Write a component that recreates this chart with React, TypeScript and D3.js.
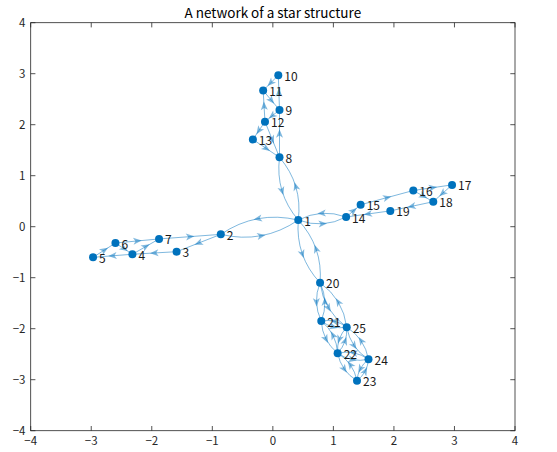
import React from 'react'
import * as d3 from 'd3'

// node positions
const nodeIds = [1, 2, 3, 4, 5, 6, 7, 8, 9, 10, 11, 12, 13, 14, 15, 16, 17, 18, 19, 20, 21, 22, 23, 24, 25]
const nodeX = [0.42, -0.86, -1.59, -2.32, -2.97, -2.6, -1.88, 0.11, 0.11, 0.09, -0.16, -0.13, -0.33, 1.21, 1.45, 2.32, 2.96, 2.65, 1.94, 0.78, 0.8, 1.07, 1.39, 1.58, 1.22]
const nodeY = [0.13, -0.15, -0.49, -0.54, -0.6, -0.32, -0.24, 1.36, 2.29, 2.97, 2.67, 2.06, 1.71, 0.19, 0.43, 0.71, 0.82, 0.49, 0.31, -1.1, -1.85, -2.48, -3.02, -2.6, -1.97]

// directed edges (source -> target)
const edgeSource = [
  1, 2, 1, 8, 1, 14, 1, 20,
  2, 3, 4, 5, 6, 7, 4, 6,
  8, 9, 10, 11, 12, 9, 12, 13, 12,
  14, 15, 16, 17, 18, 19, 16,
  20, 21, 20, 25, 21, 22, 21, 25, 22, 25, 22, 23, 22, 24, 23, 24, 24, 25
]
const edgeTarget = [
  2, 1, 8, 1, 14, 1, 20, 1,
  3, 4, 5, 6, 7, 2, 7, 4,
  9, 10, 11, 9, 11, 12, 13, 8, 8,
  15, 16, 17, 18, 19, 14, 18,
  21, 20, 25, 20, 22, 21, 25, 21, 25, 22, 23, 22, 24, 22, 24, 23, 25, 24
]

const xTicks = [-4, -3, -2, -1, 0, 1, 2, 3, 4]
const yTicks = [-4, -3, -2, -1, 0, 1, 2, 3, 4]

const W = 557
const H = 452
const blue = '#0072BD'
const font = '"Noto Sans CJK JP", "Liberation Sans", sans-serif'

export default function App() {
  const x = d3.scaleLinear().domain([-4, 4]).range([30.7, 515])
  const y = d3.scaleLinear().domain([-4, 4]).range([430.7, 22.7])

  const pos = (id: number) => {
    const i = nodeIds.indexOf(id)
    return [x(nodeX[i]), y(nodeY[i])]
  }

  const edgeKeys = new Set(edgeSource.map((s, i) => s + '-' + edgeTarget[i]))

  const edges = edgeSource.map((s, i) => {
    const t = edgeTarget[i]
    const [x0, y0] = pos(s)
    const [x1, y1] = pos(t)
    const dx = x1 - x0
    const dy = y1 - y0
    const both = edgeKeys.has(t + '-' + s)
    const k = both ? 0.22 : 0
    // bend to the right of travel direction
    const cx = (x0 + x1) / 2 - dy * k
    const cy = (y0 + y1) / 2 + dx * k
    const p = d3.path()
    p.moveTo(x0, y0)
    p.quadraticCurveTo(cx, cy, x1, y1)
    const mx = 0.25 * x0 + 0.5 * cx + 0.25 * x1
    const my = 0.25 * y0 + 0.5 * cy + 0.25 * y1
    const ang = (Math.atan2(dy, dx) * 180) / Math.PI
    return { d: p.toString(), mx, my, ang, key: s + '-' + t }
  })

  return (
    <svg width={W} height={H} style={{ position: 'absolute', left: 0, top: 0, background: '#fff' }}>
      <rect x={0} y={0} width={W} height={H} fill="#fff" />
      <text x={(30.7 + 515) / 2} y={17.5} textAnchor="middle" fontFamily={font} fontSize={13.5} fill="#000">
        A network of a star structure
      </text>

      {/* axes box and inward ticks */}
      <g stroke="#262626" strokeWidth={0.8} fill="none">
        <rect x={30.7} y={22.7} width={515 - 30.7} height={430.7 - 22.7} />
        {xTicks.map(v => (
          <g key={'xt' + v}>
            <line x1={x(v)} x2={x(v)} y1={430.7} y2={426} />
            <line x1={x(v)} x2={x(v)} y1={22.7} y2={27.4} />
          </g>
        ))}
        {yTicks.map(v => (
          <g key={'yt' + v}>
            <line x1={30.7} x2={35.4} y1={y(v)} y2={y(v)} />
            <line x1={515} x2={510.3} y1={y(v)} y2={y(v)} />
          </g>
        ))}
      </g>
      <g fontFamily={font} fontSize={11.5} fill="#262626">
        {xTicks.map(v => (
          <text key={'xl' + v} x={x(v)} y={445} textAnchor="middle">
            {v < 0 ? '\u2212' + Math.abs(v) : String(v)}
          </text>
        ))}
        {yTicks.map(v => (
          <text key={'yl' + v} x={25.5} y={y(v)} dy="0.35em" textAnchor="end">
            {v < 0 ? '\u2212' + Math.abs(v) : String(v)}
          </text>
        ))}
      </g>

      {/* edges */}
      <g>
        {edges.map(e => (
          <g key={e.key}>
            <path d={e.d} fill="none" stroke={blue} strokeOpacity={0.5} strokeWidth={1} />
            <path
              d="M4.5,0 L-4,-3.5 L-1.8,0 L-4,3.5 Z"
              transform={`translate(${e.mx},${e.my}) rotate(${e.ang})`}
              fill={blue}
              fillOpacity={0.5}
            />
          </g>
        ))}
      </g>

      {/* nodes */}
      <g>
        {nodeIds.map((id, i) => (
          <circle key={'n' + id} cx={x(nodeX[i])} cy={y(nodeY[i])} r={4} fill={blue} />
        ))}
      </g>
      <g fontFamily={font} fontSize={12} fill="#1a1a1a">
        {nodeIds.map((id, i) => (
          <text key={'l' + id} x={x(nodeX[i]) + 6} y={y(nodeY[i]) + 5.5}>
            {id}
          </text>
        ))}
      </g>
    </svg>
  )
}
